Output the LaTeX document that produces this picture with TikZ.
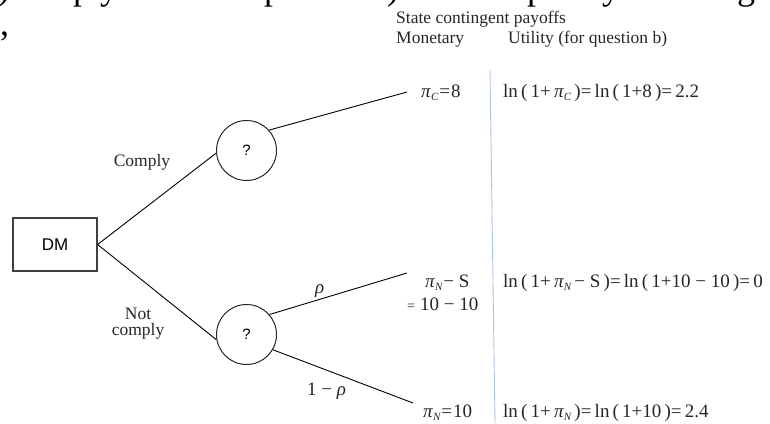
\documentclass[tikz,border=0pt]{standalone}
\usepackage{fontspec}
\setmainfont{Liberation Serif}
\newfontfamily\sansf{Liberation Sans}
\newcommand\mygap{\kern3.2pt}
\newcommand\pisub[1]{{\itshape π}\kern0.3pt\raisebox{-3.5pt}{\fontsize{11}{11}\selectfont\itshape #1}}
\definecolor{sepblue}{RGB}{175,195,225}
\begin{document}
\begin{tikzpicture}[x=1pt,y=-1pt,
  treeline/.style={line width=0.9pt,black},
  chance/.style={circle,draw=black!85,line width=1pt,minimum size=60pt,inner sep=0pt,font=\sansf\fontsize{15}{15}\selectfont},
  decbox/.style={rectangle,draw=black!75,line width=1.2pt,minimum width=84pt,minimum height=53pt,font=\sansf\fontsize{17}{17}\selectfont},
  lbl/.style={font=\fontsize{17.5}{20}\selectfont,inner sep=0pt,text=black!85},
  mth/.style={font=\fontsize{19}{20}\selectfont,inner sep=0pt,text=black!85},
  frag/.style={font=\fontsize{36}{36}\selectfont,inner sep=0pt,anchor=base west}
]
\useasboundingbox (0,0) rectangle (770,423);
% cut-off text of the surrounding page
\begin{scope}
\clip (0,0) rectangle (770,423);
\node[frag] (f1) at (-2,0) {)};
\node[frag] (f2) at (73,0) {p};
\node[frag] (f3) at (100,0) {y};
\node[frag] (f4) at (264,0) {p};
\node[frag] (f5) at (387,0) {)};
\node[frag] (f6) at (527,0) {p};
\node[frag] (f7) at (602,0) {y};
\node[frag] (f8) at (737,0) {g};
\node[frag] (f9) at (0,35) {,};
\end{scope}

% headers
\node[lbl,anchor=base west] (hdr) at (396,23) {State contingent payoffs};
\node[lbl,anchor=base west] (mon) at (396,43) {Monetary};
\node[lbl,anchor=base west] (uti) at (508,43) {Utility (for question b)};

% tree
\node[decbox] (dm) at (55,244.5) {DM};
\node[chance] (c1) at (246.5,150.5) {?};
\node[chance] (c2) at (246.5,334.5) {?};
\coordinate (eC) at (407,92);
\coordinate (eS) at (407,273);
\coordinate (eN) at (413,403);

\draw[treeline] (dm.east) -- (c1.185);
\draw[treeline] (dm.east) -- (c2.190);
\draw[treeline] (c1.42) -- (eC);
\draw[treeline] (c2.41) -- (eS);
\draw[treeline] (c2.330) -- (eN);

\node[lbl,anchor=base] (comply) at (142,166) {Comply};
\node[lbl,anchor=base] (notl) at (138,319) {Not};
\node[lbl,anchor=base] (complyl) at (138,335) {comply};
\node[mth,anchor=base west] (rho) at (315,293) {\itshape ρ};
\node[mth,anchor=base west] (onerho) at (307,395) {1 − {\itshape ρ}};

% separator
\draw[sepblue,line width=0.9pt] (490,70) -- (495,423);

% monetary payoffs
\node[mth,anchor=base west] (mC) at (421,97) {\pisub{C}\kern1pt=\kern1pt8};
\node[mth,anchor=base west] (mS) at (425,287) {\pisub{N}\kern1pt − S};
\node[mth,anchor=base west] (mS2) at (407,310) {{\fontsize{14}{14}\selectfont =}\kern5pt 10 − 10};
\node[mth,anchor=base west] (mN) at (423,417) {\pisub{N}\kern1pt=\kern1pt10};

% utilities
\node[mth,anchor=base west] (uC) at (503,97) {ln\mygap(\mygap1+\mygap\pisub{C}\mygap)=\mygap ln\mygap(\mygap1+8\mygap)=\mygap2.2};
\node[mth,anchor=base west] (uS) at (503,287) {ln\mygap(\mygap1+\mygap\pisub{N}\mygap − S\mygap)=\mygap ln\mygap(\mygap1+10 − 10\mygap)=\mygap0};
\node[mth,anchor=base west] (uN) at (503,417) {ln\mygap(\mygap1+\mygap\pisub{N}\mygap)=\mygap ln\mygap(\mygap1+10\mygap)=\mygap2.4};
\end{tikzpicture}
\end{document}
